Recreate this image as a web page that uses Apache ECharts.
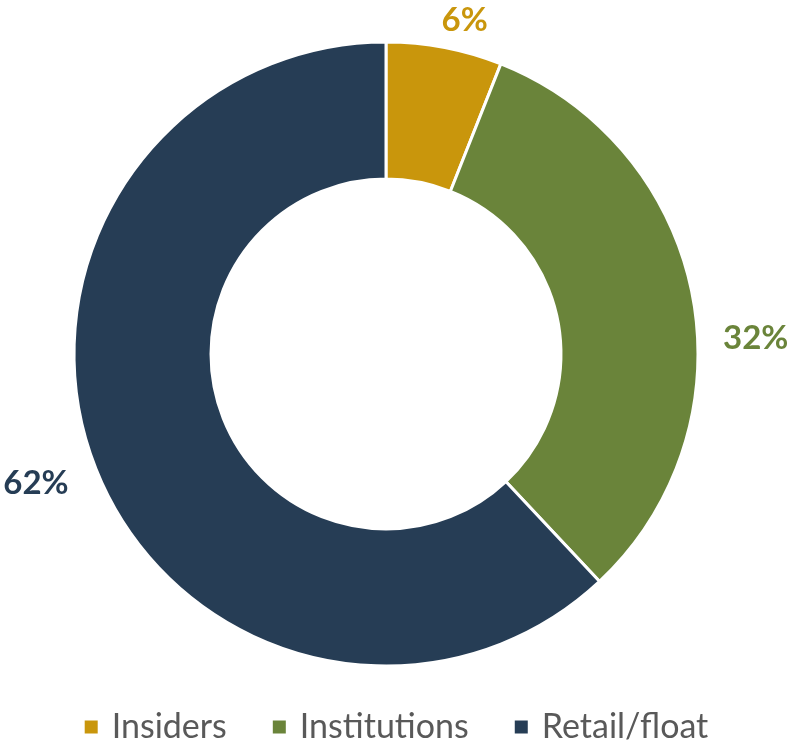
<!DOCTYPE html>
<html><head><meta charset="utf-8">
<script src="https://cdn.jsdelivr.net/npm/echarts@6/dist/echarts.min.js"></script>
<style>html,body{margin:0;padding:0;background:#fff}#c{width:791px;height:743px}</style>
</head><body><div id="c"></div>
<script>
const categories = ['Insiders', 'Institutions', 'Retail/float'];
const values = [6, 32, 62];
const colors = ['#C9960C', '#6A843A', '#263D55'];
const labelLen = [22, 26, 24];
const labelShift = [[-12, -6], [0, 48], [0, 6]];

const chart = echarts.init(document.getElementById('c'), null, {renderer: 'canvas'});
chart.setOption({
  animation: false,
  legend: {
    bottom: -6, left: 'center',
    itemWidth: 15, itemHeight: 15, itemGap: 44,
    icon: 'rect',
    textStyle: {fontFamily: 'Lato', fontSize: 34, color: '#595959', padding: [0, 0, 0, 8]},
    data: categories
  },
  series: [{
    type: 'pie',
    center: [386, 354],
    radius: [175, 312],
    startAngle: 90,
    clockwise: true,
    avoidLabelOverlap: false,
    itemStyle: {borderColor: '#fff', borderWidth: 3},
    label: {
      show: true, position: 'outside',
      formatter: p => Math.round(p.value) + '%',
      fontFamily: 'Lato', fontWeight: 'bold', fontSize: 33
    },
    labelLine: {show: false},
    labelLayout: p => ({dx: labelShift[p.dataIndex][0], dy: labelShift[p.dataIndex][1]}),
    data: categories.map((n, i) => ({
      name: n, value: values[i],
      itemStyle: {color: colors[i]},
      label: {color: colors[i]},
      labelLine: {length: labelLen[i], length2: 0}
    }))
  }]
});
</script></body></html>
